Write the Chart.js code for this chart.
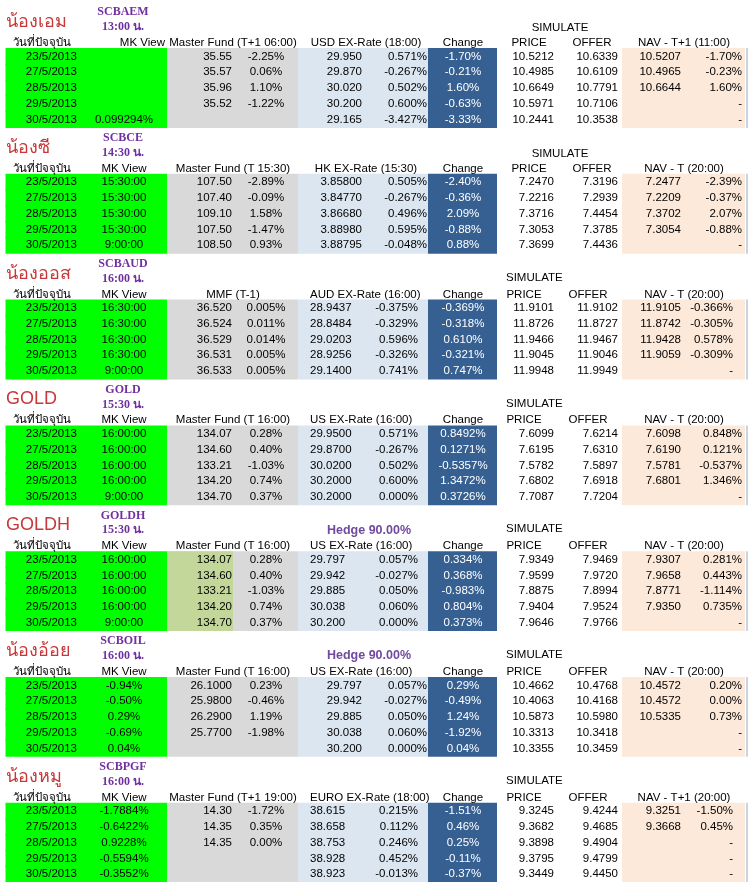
<!DOCTYPE html>
<html>
<head>
<meta charset="utf-8">
<script src="https://cdn.jsdelivr.net/npm/chart.js@4.4.0/dist/chart.umd.min.js"></script>
<style>
  html, body { margin: 0; padding: 0; background: #ffffff; }
  #wrap { width: 750px; height: 886px; position: relative; }
</style>
</head>
<body>
<div id="wrap"><canvas id="sheet"></canvas></div>
<script>
// ---- data ----
const DATES = ['23/5/2013', '27/5/2013', '28/5/2013', '29/5/2013', '30/5/2013'];

const NAMES = ['น้องเอม', 'น้องซี', 'น้องออส', 'GOLD', 'GOLDH', 'น้องอ้อย', 'น้องหมู'];
const CODES = ['SCBAEM', 'SCBCE', 'SCBAUD', 'GOLD', 'GOLDH', 'SCBOIL', 'SCBPGF'];
const TIMES = ['13:00 น.', '14:30 น.', '16:00 น.', '15:30 น.', '15:30 น.', '16:00 น.', '16:00 น.'];
const HEDGES = ['', '', '', '', 'Hedge 90.00%', 'Hedge 90.00%', ''];
const MASTER_HEADERS = ['Master Fund (T+1 06:00)', 'Master Fund (T 15:30)', 'MMF (T-1)', 'Master Fund (T 16:00)',
  'Master Fund (T 16:00)', 'Master Fund (T 16:00)', 'Master Fund (T+1 19:00)'];
const FX_HEADERS = ['USD EX-Rate (18:00)', 'HK EX-Rate (15:30)', 'AUD EX-Rate (16:00)', 'US EX-Rate (16:00)',
  'US EX-Rate (16:00)', 'US EX-Rate (16:00)', 'EURO EX-Rate (18:00)'];
const NAV_HEADERS = ['NAV - T+1 (11:00)', 'NAV - T (20:00)', 'NAV - T (20:00)', 'NAV - T (20:00)',
  'NAV - T (20:00)', 'NAV - T (20:00)', 'NAV - T+1 (20:00)'];

// SCBAEM
const AEM_MK = ['', '', '', '', '0.099294%'];
const AEM_MASTER = ['35.55', '35.57', '35.96', '35.52', ''];
const AEM_MASTER_PCT = ['-2.25%', '0.06%', '1.10%', '-1.22%', ''];
const AEM_FX = ['29.950', '29.870', '30.020', '30.200', '29.165'];
const AEM_FX_PCT = ['0.571%', '-0.267%', '0.502%', '0.600%', '-3.427%'];
const AEM_CHANGE = ['-1.70%', '-0.21%', '1.60%', '-0.63%', '-3.33%'];
const AEM_PRICE = ['10.5212', '10.4985', '10.6649', '10.5971', '10.2441'];
const AEM_OFFER = ['10.6339', '10.6109', '10.7791', '10.7106', '10.3538'];
const AEM_NAV = ['10.5207', '10.4965', '10.6644', '', ''];
const AEM_NAV_PCT = ['-1.70%', '-0.23%', '1.60%', '-', '-'];

// SCBCE
const CE_MK = ['15:30:00', '15:30:00', '15:30:00', '15:30:00', '9:00:00'];
const CE_MASTER = ['107.50', '107.40', '109.10', '107.50', '108.50'];
const CE_MASTER_PCT = ['-2.89%', '-0.09%', '1.58%', '-1.47%', '0.93%'];
const CE_FX = ['3.85800', '3.84770', '3.86680', '3.88980', '3.88795'];
const CE_FX_PCT = ['0.505%', '-0.267%', '0.496%', '0.595%', '-0.048%'];
const CE_CHANGE = ['-2.40%', '-0.36%', '2.09%', '-0.88%', '0.88%'];
const CE_PRICE = ['7.2470', '7.2216', '7.3716', '7.3053', '7.3699'];
const CE_OFFER = ['7.3196', '7.2939', '7.4454', '7.3785', '7.4436'];
const CE_NAV = ['7.2477', '7.2209', '7.3702', '7.3054', ''];
const CE_NAV_PCT = ['-2.39%', '-0.37%', '2.07%', '-0.88%', '-'];

// SCBAUD
const AUD_MK = ['16:30:00', '16:30:00', '16:30:00', '16:30:00', '9:00:00'];
const AUD_MASTER = ['36.520', '36.524', '36.529', '36.531', '36.533'];
const AUD_MASTER_PCT = ['0.005%', '0.011%', '0.014%', '0.005%', '0.005%'];
const AUD_FX = ['28.9437', '28.8484', '29.0203', '28.9256', '29.1400'];
const AUD_FX_PCT = ['-0.375%', '-0.329%', '0.596%', '-0.326%', '0.741%'];
const AUD_CHANGE = ['-0.369%', '-0.318%', '0.610%', '-0.321%', '0.747%'];
const AUD_PRICE = ['11.9101', '11.8726', '11.9466', '11.9045', '11.9948'];
const AUD_OFFER = ['11.9102', '11.8727', '11.9467', '11.9046', '11.9949'];
const AUD_NAV = ['11.9105', '11.8742', '11.9428', '11.9059', ''];
const AUD_NAV_PCT = ['-0.366%', '-0.305%', '0.578%', '-0.309%', '-'];

// GOLD
const GOLD_MK = ['16:00:00', '16:00:00', '16:00:00', '16:00:00', '9:00:00'];
const GOLD_MASTER = ['134.07', '134.60', '133.21', '134.20', '134.70'];
const GOLD_MASTER_PCT = ['0.28%', '0.40%', '-1.03%', '0.74%', '0.37%'];
const GOLD_FX = ['29.9500', '29.8700', '30.0200', '30.2000', '30.2000'];
const GOLD_FX_PCT = ['0.571%', '-0.267%', '0.502%', '0.600%', '0.000%'];
const GOLD_CHANGE = ['0.8492%', '0.1271%', '-0.5357%', '1.3472%', '0.3726%'];
const GOLD_PRICE = ['7.6099', '7.6195', '7.5782', '7.6802', '7.7087'];
const GOLD_OFFER = ['7.6214', '7.6310', '7.5897', '7.6918', '7.7204'];
const GOLD_NAV = ['7.6098', '7.6190', '7.5781', '7.6801', ''];
const GOLD_NAV_PCT = ['0.848%', '0.121%', '-0.537%', '1.346%', '-'];

// GOLDH
const GOLDH_MK = ['16:00:00', '16:00:00', '16:00:00', '16:00:00', '9:00:00'];
const GOLDH_MASTER = ['134.07', '134.60', '133.21', '134.20', '134.70'];
const GOLDH_MASTER_PCT = ['0.28%', '0.40%', '-1.03%', '0.74%', '0.37%'];
const GOLDH_FX = ['29.797', '29.942', '29.885', '30.038', '30.200'];
const GOLDH_FX_PCT = ['0.057%', '-0.027%', '0.050%', '0.060%', '0.000%'];
const GOLDH_CHANGE = ['0.334%', '0.368%', '-0.983%', '0.804%', '0.373%'];
const GOLDH_PRICE = ['7.9349', '7.9599', '7.8875', '7.9404', '7.9646'];
const GOLDH_OFFER = ['7.9469', '7.9720', '7.8994', '7.9524', '7.9766'];
const GOLDH_NAV = ['7.9307', '7.9658', '7.8771', '7.9350', ''];
const GOLDH_NAV_PCT = ['0.281%', '0.443%', '-1.114%', '0.735%', '-'];

// SCBOIL
const OIL_MK = ['-0.94%', '-0.50%', '0.29%', '-0.69%', '0.04%'];
const OIL_MASTER = ['26.1000', '25.9800', '26.2900', '25.7700', ''];
const OIL_MASTER_PCT = ['0.23%', '-0.46%', '1.19%', '-1.98%', ''];
const OIL_FX = ['29.797', '29.942', '29.885', '30.038', '30.200'];
const OIL_FX_PCT = ['0.057%', '-0.027%', '0.050%', '0.060%', '0.000%'];
const OIL_CHANGE = ['0.29%', '-0.49%', '1.24%', '-1.92%', '0.04%'];
const OIL_PRICE = ['10.4662', '10.4063', '10.5873', '10.3313', '10.3355'];
const OIL_OFFER = ['10.4768', '10.4168', '10.5980', '10.3418', '10.3459'];
const OIL_NAV = ['10.4572', '10.4572', '10.5335', '', ''];
const OIL_NAV_PCT = ['0.20%', '0.00%', '0.73%', '-', '-'];

// SCBPGF
const PGF_MK = ['-1.7884%', '-0.6422%', '0.9228%', '-0.5594%', '-0.3552%'];
const PGF_MASTER = ['14.30', '14.35', '14.35', '', ''];
const PGF_MASTER_PCT = ['-1.72%', '0.35%', '0.00%', '', ''];
const PGF_FX = ['38.615', '38.658', '38.753', '38.928', '38.923'];
const PGF_FX_PCT = ['0.215%', '0.112%', '0.246%', '0.452%', '-0.013%'];
const PGF_CHANGE = ['-1.51%', '0.46%', '0.25%', '-0.11%', '-0.37%'];
const PGF_PRICE = ['9.3245', '9.3682', '9.3898', '9.3795', '9.3449'];
const PGF_OFFER = ['9.4244', '9.4685', '9.4904', '9.4799', '9.4450'];
const PGF_NAV = ['9.3251', '9.3668', '', '', ''];
const PGF_NAV_PCT = ['-1.50%', '0.45%', '-', '-', '-'];

const FUNDS = [
  { mk: AEM_MK, master: AEM_MASTER, masterPct: AEM_MASTER_PCT, fx: AEM_FX, fxPct: AEM_FX_PCT, change: AEM_CHANGE, price: AEM_PRICE, offer: AEM_OFFER, nav: AEM_NAV, navPct: AEM_NAV_PCT },
  { mk: CE_MK, master: CE_MASTER, masterPct: CE_MASTER_PCT, fx: CE_FX, fxPct: CE_FX_PCT, change: CE_CHANGE, price: CE_PRICE, offer: CE_OFFER, nav: CE_NAV, navPct: CE_NAV_PCT },
  { mk: AUD_MK, master: AUD_MASTER, masterPct: AUD_MASTER_PCT, fx: AUD_FX, fxPct: AUD_FX_PCT, change: AUD_CHANGE, price: AUD_PRICE, offer: AUD_OFFER, nav: AUD_NAV, navPct: AUD_NAV_PCT },
  { mk: GOLD_MK, master: GOLD_MASTER, masterPct: GOLD_MASTER_PCT, fx: GOLD_FX, fxPct: GOLD_FX_PCT, change: GOLD_CHANGE, price: GOLD_PRICE, offer: GOLD_OFFER, nav: GOLD_NAV, navPct: GOLD_NAV_PCT },
  { mk: GOLDH_MK, master: GOLDH_MASTER, masterPct: GOLDH_MASTER_PCT, fx: GOLDH_FX, fxPct: GOLDH_FX_PCT, change: GOLDH_CHANGE, price: GOLDH_PRICE, offer: GOLDH_OFFER, nav: GOLDH_NAV, navPct: GOLDH_NAV_PCT },
  { mk: OIL_MK, master: OIL_MASTER, masterPct: OIL_MASTER_PCT, fx: OIL_FX, fxPct: OIL_FX_PCT, change: OIL_CHANGE, price: OIL_PRICE, offer: OIL_OFFER, nav: OIL_NAV, navPct: OIL_NAV_PCT },
  { mk: PGF_MK, master: PGF_MASTER, masterPct: PGF_MASTER_PCT, fx: PGF_FX, fxPct: PGF_FX_PCT, change: PGF_CHANGE, price: PGF_PRICE, offer: PGF_OFFER, nav: PGF_NAV, navPct: PGF_NAV_PCT }
];

// ---- layout (sheet pixel units on the x scale, rows on the y scale) ----
const ROWS_PER_BLOCK = 8; // code, title, header, 5 dates
const FIRST_DATA_ROW = 3;

// column fills: later entries are drawn underneath earlier ones
const BANDS = [
  { color: '#c4d79b', from: 167, to: 233, only: [4] },
  { color: '#00ff00', from: 5.5, to: 167 },
  { color: '#d9d9d9', from: 167, to: 298 },
  { color: '#dce6f1', from: 298, to: 428 },
  { color: '#366092', from: 428, to: 497 },
  { color: '#fde9d9', from: 622, to: 745 },
  { color: '#c6d4e4', from: 746, to: 748 }
];

// per-block alignment quirks of the sheet
const BLOCK_STYLE = [
  { top: true, fxAlign: 'right', fxPctAt: 427, navPctAt: 742 },
  { top: true, fxAlign: 'right', fxPctAt: 427, navPctAt: 742 },
  { top: false, fxAlign: 'left', fxPctAt: 418, navPctAt: 733 },
  { top: false, fxAlign: 'left', fxPctAt: 418, navPctAt: 742 },
  { top: false, fxAlign: 'left', fxPctAt: 418, navPctAt: 742 },
  { top: false, fxAlign: 'right', fxPctAt: 427, navPctAt: 742 },
  { top: false, fxAlign: 'left', fxPctAt: 418, navPctAt: 733 }
];

const BODY = '11.5px "Liberation Sans", Arial, sans-serif';
const TITLE = '18px "Liberation Sans", Arial, sans-serif';
const CODE = 'bold 12px "Liberation Serif", "Times New Roman", serif';
const HEDGE = 'bold 12.5px "Liberation Sans", Arial, sans-serif';
const INK = '#000000';
const PURPLE = '#7030a0';

// ---- rows and bands ----
const ROW_LABELS = [];
CODES.forEach(code => {
  for (let r = 0; r < ROWS_PER_BLOCK; r++) ROW_LABELS.push(code + ' ' + r);
});

const datasets = BANDS.map(band => ({
  data: ROW_LABELS.map((_, i) => {
    const b = Math.floor(i / ROWS_PER_BLOCK);
    const r = i % ROWS_PER_BLOCK;
    if (r < FIRST_DATA_ROW) return null;
    if (band.only && !band.only.includes(b)) return null;
    return [band.from, band.to];
  }),
  backgroundColor: band.color,
  borderWidth: 0,
  barPercentage: 1,
  categoryPercentage: 1.08, // slight overlap so rows do not show seams
  grouped: false
}));

// ---- texts ----
const TEXTS = [];
function put(row, x, text, align, font, color, dy) {
  if (text === '') return;
  TEXTS.push({ row, x, text, align, font, color: color || INK, dy: dy || 0 });
}

FUNDS.forEach((f, b) => {
  const s = BLOCK_STYLE[b];
  const base = b * ROWS_PER_BLOCK;
  put(base + 1, 6, NAMES[b], 'left', TITLE, '#c8383a', -3);
  put(base, 123, CODES[b], 'center', CODE, PURPLE, 3);
  put(base + 1, 123, TIMES[b], 'center', CODE, PURPLE, 2);
  put(base + 1, 369, HEDGES[b], 'center', HEDGE, '#6f4a9e', 2);
  if (s.top) put(base + 1, 560, 'SIMULATE', 'center', BODY, INK, 3);
  else put(base + 1, 506, 'SIMULATE', 'left', BODY, INK, 1);

  const h = base + 2;
  put(h, 42, 'วันที่ปัจจุบัน', 'center', BODY, INK, 2);
  if (b === 0) put(h, 165, 'MK View', 'right', BODY, INK, 2);
  else put(h, 124, 'MK View', 'center', BODY, INK, 2);
  put(h, 233, MASTER_HEADERS[b], 'center', BODY, INK, 2);
  if (s.top) put(h, 366, FX_HEADERS[b], 'center', BODY, INK, 2);
  else put(h, 310, FX_HEADERS[b], 'left', BODY, INK, 2);
  put(h, 463, 'Change', 'center', BODY, INK, 2);
  put(h, s.top ? 529 : 524, 'PRICE', 'center', BODY, INK, 2);
  put(h, s.top ? 592 : 588, 'OFFER', 'center', BODY, INK, 2);
  put(h, 684, NAV_HEADERS[b], 'center', BODY, INK, 2);

  DATES.forEach((d, i) => {
    const row = base + FIRST_DATA_ROW + i;
    put(row, 77, d, 'right', BODY);
    put(row, 124, f.mk[i], 'center', BODY);
    put(row, 232, f.master[i], 'right', BODY);
    put(row, 266, f.masterPct[i], 'center', BODY);
    if (s.fxAlign === 'right') put(row, 362, f.fx[i], 'right', BODY);
    else put(row, 310, f.fx[i], 'left', BODY);
    put(row, s.fxPctAt, f.fxPct[i], 'right', BODY);
    put(row, 463, f.change[i], 'center', BODY, '#ffffff');
    put(row, 554, f.price[i], 'right', BODY);
    put(row, 618, f.offer[i], 'right', BODY);
    put(row, 681, f.nav[i], 'right', BODY);
    put(row, s.navPctAt, f.navPct[i], 'right', BODY);
  });
});

const cellText = {
  id: 'cellText',
  afterDatasetsDraw(chart) {
    const { ctx, scales: { x, y } } = chart;
    ctx.save();
    ctx.textBaseline = 'middle';
    TEXTS.forEach(t => {
      ctx.font = t.font;
      ctx.fillStyle = t.color;
      ctx.textAlign = t.align;
      ctx.fillText(t.text, x.getPixelForValue(t.x), y.getPixelForValue(t.row) + t.dy);
    });
    ctx.restore();
  }
};

new Chart(document.getElementById('sheet'), {
  type: 'bar',
  data: { labels: ROW_LABELS, datasets: datasets },
  options: {
    indexAxis: 'y',
    responsive: true,
    maintainAspectRatio: false,
    animation: false,
    events: [],
    layout: { padding: { top: 1.5, bottom: 4, left: 0, right: 0 } },
    plugins: {
      legend: { display: false },
      tooltip: { enabled: false }
    },
    scales: {
      x: { type: 'linear', min: 0, max: 750, display: false },
      y: { type: 'category', display: false, offset: true }
    }
  },
  plugins: [cellText]
});
</script>
</body>
</html>
